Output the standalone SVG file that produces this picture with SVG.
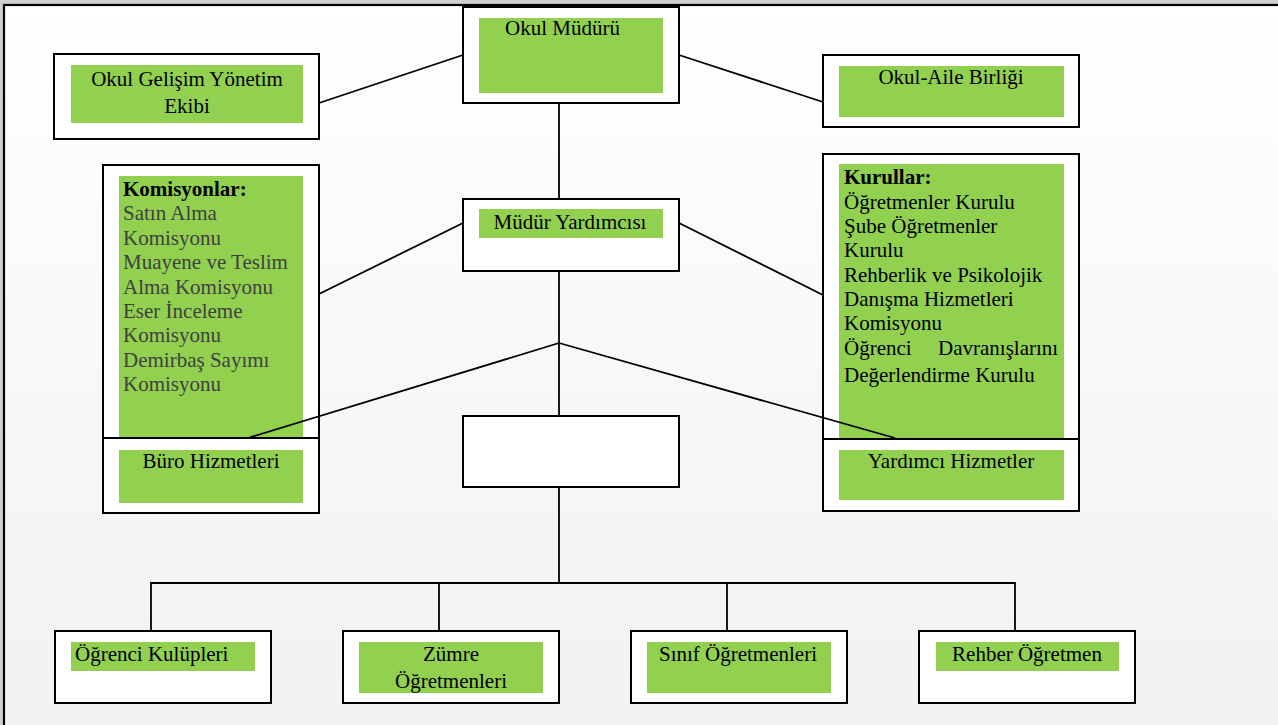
<svg xmlns="http://www.w3.org/2000/svg" width="1278" height="725" viewBox="0 0 1278 725">
<defs>
<linearGradient id="bg" x1="0" y1="0" x2="0" y2="1">
<stop offset="0" stop-color="#ffffff"/>
<stop offset="1" stop-color="#f1f1f1"/>
</linearGradient>
</defs>
<style>
.box{fill:#ffffff;stroke:#000000;stroke-width:2}
.g{fill:#92d050}
.t{font-family:"Liberation Serif","Times New Roman",serif;font-size:21px;fill:#000000}
.c{text-anchor:middle}
.gray{fill:#404040}
.b{font-weight:bold}
.ln{stroke:#000000;stroke-width:1.8;fill:none}
</style>
<rect x="0" y="0" width="1278" height="725" fill="#d0d0d0"/>
<rect x="4" y="5" width="1290" height="740" fill="url(#bg)" stroke="#000000" stroke-width="2.2"/>

<g id="okul-muduru">
<rect class="box" x="463" y="7" width="216" height="96"/>
<rect class="g" x="479" y="18" width="184" height="75"/>
<text class="t" x="505" y="35">Okul Müdürü</text>
</g>

<g id="okul-gelisim">
<rect class="box" x="54" y="54" width="265" height="85"/>
<rect class="g" x="71" y="65" width="232" height="58"/>
<text class="t c" x="187" y="85.5">Okul Gelişim Yönetim</text>
<text class="t c" x="187" y="113">Ekibi</text>
</g>

<g id="okul-aile">
<rect class="box" x="823" y="55" width="256" height="72"/>
<rect class="g" x="839" y="66" width="225" height="51"/>
<text class="t c" x="951" y="84">Okul-Aile Birliği</text>
</g>

<g id="mudur-yardimcisi">
<rect class="box" x="463" y="199" width="216" height="72"/>
<rect class="g" x="479" y="209" width="184" height="29"/>
<text class="t c" x="570" y="229">Müdür Yardımcısı</text>
</g>

<g id="komisyonlar">
<rect class="box" x="103" y="165" width="216" height="273"/>
<rect class="g" x="119" y="176" width="184" height="262"/>
<text class="t b" x="123" y="196">Komisyonlar:</text>
<text class="t gray" x="123" y="220.4">Satın Alma</text>
<text class="t gray" x="123" y="244.8">Komisyonu</text>
<text class="t gray" x="123" y="269.2">Muayene ve Teslim</text>
<text class="t gray" x="123" y="293.6">Alma Komisyonu</text>
<text class="t gray" x="123" y="318">Eser İnceleme</text>
<text class="t gray" x="123" y="342.4">Komisyonu</text>
<text class="t gray" x="123" y="366.8">Demirbaş Sayımı</text>
<text class="t gray" x="123" y="391.2">Komisyonu</text>
</g>

<g id="buro-hizmetleri">
<rect class="box" x="103" y="438" width="216" height="75"/>
<rect class="g" x="119" y="450" width="184" height="53"/>
<text class="t c" x="211" y="468">Büro Hizmetleri</text>
</g>

<g id="kurullar">
<rect class="box" x="823" y="154" width="256" height="285"/>
<rect class="g" x="839" y="164" width="225" height="275"/>
<text class="t b" x="844" y="184">Kurullar:</text>
<text class="t" x="844" y="208.5">Öğretmenler Kurulu</text>
<text class="t" x="844" y="232.5">Şube Öğretmenler</text>
<text class="t" x="844" y="257">Kurulu</text>
<text class="t" x="844" y="281.5">Rehberlik ve Psikolojik</text>
<text class="t" x="844" y="306">Danışma Hizmetleri</text>
<text class="t" x="844" y="330">Komisyonu</text>
<text class="t" x="844" y="354.5"><tspan x="844">Öğrenci</tspan><tspan x="938">Davranışlarını</tspan></text>
<text class="t" x="844" y="382">Değerlendirme Kurulu</text>
</g>

<g id="yardimci-hizmetler">
<rect class="box" x="823" y="439" width="256" height="72"/>
<rect class="g" x="839" y="450" width="225" height="50"/>
<text class="t c" x="951" y="468">Yardımcı Hizmetler</text>
</g>

<g id="bos-kutu">
<rect class="box" x="463" y="416" width="216" height="71"/>
</g>

<g id="ogrenci-kulupleri">
<rect class="box" x="55" y="631" width="216" height="72"/>
<rect class="g" x="71" y="642" width="184" height="29"/>
<text class="t" x="75" y="661">Öğrenci Kulüpleri</text>
</g>

<g id="zumre-ogretmenleri">
<rect class="box" x="343" y="631" width="216" height="72"/>
<rect class="g" x="359" y="642" width="184" height="51"/>
<text class="t c" x="451" y="661">Zümre</text>
<text class="t c" x="451" y="688">Öğretmenleri</text>
</g>

<g id="sinif-ogretmenleri">
<rect class="box" x="631" y="631" width="216" height="72"/>
<rect class="g" x="647" y="642" width="184" height="51"/>
<text class="t c" x="738" y="661">Sınıf Öğretmenleri</text>
</g>

<g id="rehber-ogretmen">
<rect class="box" x="919" y="631" width="216" height="72"/>
<rect class="g" x="936" y="642" width="183" height="29"/>
<text class="t c" x="1027" y="661">Rehber Öğretmen</text>
</g>

<g id="connectors">
<line class="ln" x1="319" y1="103" x2="463" y2="55"/>
<line class="ln" x1="679" y1="55" x2="823" y2="102"/>
<line class="ln" x1="559" y1="103" x2="559" y2="199"/>
<line class="ln" x1="463" y1="223" x2="319" y2="294"/>
<line class="ln" x1="679" y1="223" x2="823" y2="295"/>
<line class="ln" x1="559" y1="271" x2="559" y2="416"/>
<line class="ln" x1="559" y1="343" x2="248" y2="438"/>
<line class="ln" x1="559" y1="343" x2="895" y2="438"/>
<line class="ln" x1="559" y1="487" x2="559" y2="583"/>
<polyline class="ln" points="151,631 151,583 1015,583 1015,631"/>
<line class="ln" x1="439" y1="583" x2="439" y2="631"/>
<line class="ln" x1="727" y1="583" x2="727" y2="631"/>
</g>
</svg>
